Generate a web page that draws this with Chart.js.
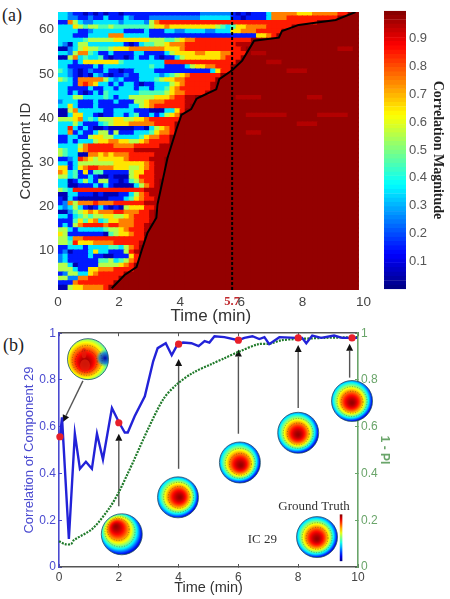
<!DOCTYPE html>
<html><head><meta charset="utf-8">
<script src="https://cdn.jsdelivr.net/npm/chart.js@4"></script>
<style>
html,body{margin:0;padding:0;background:#fff;width:450px;height:599px;overflow:hidden}
canvas{position:absolute;filter:blur(.45px)}
#heat{filter:blur(.65px)}
.tag{position:absolute;font-family:"Liberation Serif",serif;font-size:18px;color:#222;line-height:20px}
</style></head><body>
<div class="tag" style="left:2px;top:5px">(a)</div>
<div class="tag" style="left:3px;top:335px">(b)</div>
<div style="position:absolute;left:0;top:0;width:375px;height:327px"><canvas id="heat"></canvas></div>
<div style="position:absolute;left:370px;top:0;width:80px;height:300px"><canvas id="bar"></canvas></div>
<div style="position:absolute;left:0;top:320px;width:450px;height:279px"><canvas id="line"></canvas></div>
<script>
// ---------- panel (a) data ----------
const levelValues = [.05,.15,.25,.35,.45,.55,.65,.75,.85,.95,.98]; // digit (a = 10) -> correlation
const cellMinutes = 1/6;
const columnCount = 59;
const saturatedLevel = 'a';
// rows from component 63 (top) down to component 1; after the written cells each row stays saturated
const heatRows = [
"332110101011011111111111111122222210101113777776667777788aa",
"3322112113111321112222222222333333110111137778888888888aaaa",
"117532233333233332578888888888888888888888888888888",
"3336545544544444445667666666666543466777788888",
"33331123333331111311133223333223336677788888",
"3331113333777333331111111111111111111116678",
"33333455555666666655544567788888888888",
"32035533333331013445567778888888888999",
"0023565544566677777776667888888888889aaaaaaaaaaaaaaaaaa999",
"3325774311311113311113566667766677888a999",
"005734334101101311310113566666667888",
"33313666666643333333388888888888888aaaaaa999",
"3311111313333333334331111356677888",
"4321012113110113333111111111113688aaaaaaaaaaa9999",
"33210103210112113333234567888888",
"5431777775323111333456677888888",
"3331787633131331011333567888889",
"3311113113313331331334678888889",
"331310131433333344444567788889",
"333553333431335555566678899aaaaaaaa99999aaaaaaaaa999",
"233311131113111556777888899",
"33631113111111335678888889",
"0057333331133331110003368",
"003663310113313411313567aaaaaaaaaaaaa99999999aaaaaa999999",
"555673435556655667888888",
"33353111345666777778888aaaaaaaaaaaaaaaaaaaaaaaa9999",
"33831310010000011035678",
"33713113551511133346778aaaaaaaaaaaaaa999",
"1133115665533333467788",
"1131333566776655678888",
"3333578888877778888899",
"5433678888888889999999",
"5433007767677788888999",
"112387656666678888999",
"331355555556666667899",
"661367887776665567899",
"763416144111115668899",
"553411310010005688899",
"33013531551101457889",
"33001113131000035789",
"54388888888888888999",
"00331110100011357899",
"10310000001113467889",
"12757778777888888999",
"32353101310105666889",
"0024567677788777889",
"3313454556655678889",
"1114646734667778889",
"131578888788777889",
"553133333455678889",
"65111111104566788",
"55377888888888888",
"55486667777888889",
"1133313333443578",
"1201113633111589",
"2311113110011168",
"2311111144534578",
"553011115555678",
"555311667778888",
"1255336788888",
"552277888888",
"11178888888",
"0056677778"
];
const boundaryTimes = [1.76,2.18,2.57,2.74,2.93,3.22,3.26,3.49,3.58,3.88,4.04,4.36,4.53,4.63,5.18,5.28,5.7,6.03,6.42,7.23,7.33,7.88,9.09,9.74];
const boundaryIds   = [1.4,4.4,6.2,10,14,17.4,20.5,27.9,30.8,37.5,40.7,42,44.3,44.7,46.5,48.8,50.8,53,57.5,58.2,59.7,61.1,62.2,64];
const markerTime = 5.7;
const heatTimeTicks = [0,2,4,5.7,6,8,10];
const heatIdTicks = [10,20,30,40,50,60];
const colorbarTicks = [.1,.2,.3,.4,.5,.6,.7,.8,.9];

// ---------- panel (b) data ----------
const blueTimes = [0.03,0.1,0.33,0.53,0.7,0.9,1.1,1.27,1.47,1.77,2,2.2,2.3,2.53,2.87,3.15,3.3,3.57,3.77,3.97,4.15,4.43,4.67,4.87,5.03,5.2,5.53,6,6.2,6.47,6.7,6.87,7.03,7.37,7.93,8.13,8.27,8.47,8.77,9.2,9.47,9.97];
const blueValues = [.55,.64,.12,.57,.42,.45,.42,.57,.46,.68,.62,.575,.575,.645,.73,.88,.936,.957,.906,.953,.96,.957,.945,.966,.96,.987,.983,.97,.98,.987,.975,.983,.953,.983,.98,.98,.957,.99,.98,.99,.98,.98];
const greenTimes = [0,0.2,0.4,0.5,1.13,1.7,2,2.3,2.5,3,3.5,3.93,4.47,5.13,5.53,6,6.67,7.05,7.45,7.97,8.87,10];
const greenValues = [.11,.098,.098,.115,.165,.255,.32,.40,.455,.596,.72,.78,.83,.87,.893,.92,.953,.955,.97,.975,.98,.983];
const pointTimes = [0.03,2,4,6,8,9.8];
const pointValues = [.557,.617,.953,.97,.98,.98];
const axisTicks01 = [0,.2,.4,.6,.8,1];
const timeTicks = [0,2,4,6,8,10];
// arrows: [t start, value start, t tip, value tip]
const arrowList = [[.8,.796,.13,.62],[2,.26,2,.57],[4,.42,4,.89],[6,.57,6,.93],[8,.68,8,.95],[9.72,.81,9.72,.955]];
// scalp maps: centre in chart coordinates, offset of the hot spot
const scalpMaps = [
 {t:.97,v:.889,dx:-3,dy:4,soft:true},
 {t:2.1,v:.14,dx:-6,dy:-8},
 {t:3.98,v:.298,dx:2,dy:0},
 {t:6.05,v:.447,dx:1,dy:3},
 {t:8,v:.574,dx:0,dy:2},
 {t:9.8,v:.71,dx:0,dy:2},
 {t:8.63,v:.128,dx:0,dy:2}
];

function jet(v){
  const c = x => Math.round(255*Math.max(0,Math.min(1,1.5-Math.abs(x))));
  return `rgb(${c(4*v-3)},${c(4*v-2)},${c(4*v-1)})`;
}
const heatPoints = [];
heatRows.forEach((row,i)=>{
  const full = row.padEnd(columnCount,saturatedLevel);
  const id = heatRows.length - i;
  for(let c=0;c<columnCount;c++){
    const lv = full[c]==='a'?10:+full[c];
    heatPoints.push({x:(c+.5)*cellMinutes,y:id+.5,v:levelValues[lv]});
  }
});
const boundary = boundaryTimes.map((x,i)=>({x,y:boundaryIds[i]}));
const pairs = (a,b)=>a.map((x,i)=>({x,y:b[i]}));
const fix = (w,h)=>s=>{ if(w!=null) s.width=w; if(h!=null) s.height=h; };
const setTicks = list=>s=>{ s.ticks=list.map(value=>({value})); };
const isMark = c=>c.tick&&c.tick.value===5.7;
Chart.defaults.animation=false;
Chart.defaults.responsive=true;
Chart.defaults.maintainAspectRatio=false;
Chart.defaults.plugins.legend.display=false;
Chart.defaults.plugins.tooltip.enabled=false;
Chart.defaults.font.family='"Liberation Sans",Arial,sans-serif';

new Chart(document.getElementById('heat'),{
  type:'scatter',
  data:{datasets:[
    {type:'line',data:[{x:markerTime,y:1},{x:markerTime,y:64}],borderColor:'#000',borderWidth:2,borderDash:[3,2],pointRadius:0,order:0},
    {type:'line',data:boundary,borderColor:'#000',borderWidth:2,pointRadius:0,tension:0,order:1},
    {type:'scatter',data:heatPoints,pointStyle:'rect',pointRadius:4.4,pointBorderWidth:0,pointBackgroundColor:c=>c.raw?jet(c.raw.v):'#800',order:2}
  ]},
  options:{
    layout:{padding:{left:17,top:9,right:10,bottom:0}},
    scales:{
      x:{type:'linear',min:0,max:10,afterFit:fix(null,37),afterBuildTicks:setTicks(heatTimeTicks),
        grid:{display:false,drawTicks:false},border:{display:false},
        title:{display:true,text:'Time (min)',color:'#333',font:{size:17},padding:0},
        ticks:{autoSkip:false,maxRotation:0,padding:4,
          color:c=>isMark(c)?'#c0282c':'#444',
          font:c=>isMark(c)?{family:'"Liberation Serif",serif',weight:'bold',size:12.5}:{size:13.5},
          callback:v=>v}},
      y:{type:'linear',min:1,max:64,afterFit:fix(41,null),afterBuildTicks:setTicks(heatIdTicks),
        grid:{display:false,drawTicks:false},border:{display:false},
        title:{display:true,text:'Component ID',color:'#333',font:{size:15},padding:0},
        ticks:{autoSkip:false,padding:4,color:'#444',font:{size:13.5},callback:v=>v}}
    }
  }
});

const colorStep = 1/64;
const colorLevels = Array.from({length:64},(_,i)=>(i+.5)*colorStep);
new Chart(document.getElementById('bar'),{
  type:'bar',
  data:{labels:['c'],datasets:colorLevels.map(v=>({data:[colorStep],backgroundColor:jet(v),borderColor:jet(v),borderWidth:.6,borderSkipped:false,barPercentage:1,categoryPercentage:1}))},
  options:{
    layout:{padding:{left:14,top:9,right:4,bottom:9}},
    scales:{
      x:{display:false,stacked:true},
      y:{stacked:true,min:0,max:1,position:'right',afterFit:fix(40,null),afterBuildTicks:setTicks(colorbarTicks),
        grid:{display:false,drawTicks:false},border:{display:false},
        title:{display:true,text:'Correlation Magnitude',color:'#222',font:{family:'"Liberation Serif",serif',weight:'bold',size:14},padding:0},
        ticks:{autoSkip:false,padding:3,color:'#555',font:{size:13},callback:v=>v.toFixed(1)}}
    }
  }
});

function arrow(ctx,x0,y0,x1,y1){
  const a=Math.atan2(y1-y0,x1-x0),h=7,w=3.5;
  ctx.strokeStyle='#555';ctx.lineWidth=1.4;
  ctx.beginPath();ctx.moveTo(x0,y0);ctx.lineTo(x1-Math.cos(a)*h,y1-Math.sin(a)*h);ctx.stroke();
  ctx.fillStyle='#111';ctx.beginPath();ctx.moveTo(x1,y1);
  ctx.lineTo(x1-h*Math.cos(a)+w*Math.sin(a),y1-h*Math.sin(a)-w*Math.cos(a));
  ctx.lineTo(x1-h*Math.cos(a)-w*Math.sin(a),y1-h*Math.sin(a)+w*Math.cos(a));
  ctx.closePath();ctx.fill();
}
function scalp(ctx,cx,cy,m){
  const r=20.5;
  ctx.save();
  ctx.beginPath();ctx.arc(cx,cy,r,0,Math.PI*2);ctx.clip();
  const oX=cx-1.5,oY=cy-1.5;
  const g=ctx.createRadialGradient(cx+m.dx,cy+m.dy,0,oX,oY,m.soft?r*1.5:r+2);
  for(let k=0;k<=14;k++){const t=k/14;g.addColorStop(t,jet(.98-.93*Math.pow(t,1.7)));}
  ctx.fillStyle=g;ctx.fillRect(cx-r,cy-r,2*r,2*r);
  if(m.soft){
    const b=ctx.createRadialGradient(cx+17,cy-1,0,cx+17,cy-1,9);
    b.addColorStop(0,'rgba(0,0,170,1)');b.addColorStop(.6,'rgba(0,120,230,.8)');b.addColorStop(1,'rgba(0,200,220,0)');
    ctx.fillStyle=b;ctx.fillRect(cx-r,cy-r,2*r,2*r);
    ctx.fillStyle='rgba(225,30,10,.75)';
    ctx.beginPath();ctx.ellipse(cx-3,cy+6,5,6,0,0,7);ctx.fill();
    ctx.beginPath();ctx.ellipse(cx-4,cy-6,2.5,5,0,0,7);ctx.fill();
  }
  ctx.strokeStyle='rgba(40,40,20,.55)';ctx.lineWidth=.7;ctx.setLineDash([1,1.6]);
  ctx.beginPath();ctx.arc(cx+m.dx*.6,cy+m.dy*.6,11,0,7);ctx.stroke();
  ctx.beginPath();ctx.arc(cx+m.dx*.3,cy+m.dy*.3,15,0,7);ctx.stroke();
  ctx.setLineDash([]);
  ctx.restore();
  ctx.strokeStyle='#1c4f66';ctx.lineWidth=.8;
  ctx.beginPath();ctx.arc(cx,cy,r,0,7);ctx.stroke();
}
const panelB={id:'panelB',
  beforeDatasetsDraw(ch){
    const {ctx,scales:{x,y}}=ch;
    ctx.save();
    arrowList.forEach(a=>arrow(ctx,x.getPixelForValue(a[0]),y.getPixelForValue(a[1]),x.getPixelForValue(a[2]),y.getPixelForValue(a[3])));
    ctx.restore();
  },
  afterDatasetsDraw(ch){
    const {ctx,scales:{x,y}}=ch;
    ctx.save();
    scalpMaps.forEach(m=>scalp(ctx,x.getPixelForValue(m.t),y.getPixelForValue(m.v),m));
    const tr=x.getPixelForValue(9.43),top=y.getPixelForValue(.225),bot=y.getPixelForValue(.025);
    const g=ctx.createLinearGradient(0,top,0,bot);
    for(let k=0;k<=10;k++)g.addColorStop(k/10,jet(1-k/10));
    ctx.fillStyle=g;ctx.fillRect(tr-1.2,top,2.6,bot-top);
    ctx.fillStyle='#333';ctx.textAlign='center';ctx.textBaseline='middle';
    ctx.font='13px "Liberation Serif",serif';
    ctx.fillText('Ground Truth',x.getPixelForValue(8.53),y.getPixelForValue(.259));
    ctx.fillText('IC 29',x.getPixelForValue(6.8),y.getPixelForValue(.119));
    ctx.restore();
  }
};
const blueC='#4a4ad0',greenC='#6aa56a',grayC='#555';
new Chart(document.getElementById('line'),{
  type:'line',
  plugins:[panelB],
  data:{datasets:[
    {type:'scatter',data:pairs(pointTimes,pointValues),yAxisID:'y',pointRadius:3.6,pointBackgroundColor:'#e8202a',pointBorderWidth:0,clip:false},
    {data:pairs(blueTimes,blueValues),yAxisID:'y',borderColor:'#2222d8',borderWidth:2.4,pointRadius:0,tension:0,clip:false},
    {data:pairs(greenTimes,greenValues),yAxisID:'y2',borderColor:'#1f7a2a',borderWidth:2.2,borderDash:[2,1.2],pointRadius:0,tension:.3,clip:false}
  ]},
  options:{
    layout:{padding:{left:22,top:12,right:58,bottom:2}},
    scales:{
      x:{type:'linear',min:0,max:10,afterFit:fix(null,30),afterBuildTicks:setTicks(timeTicks),
        grid:{drawOnChartArea:false,tickLength:-3,tickColor:grayC},border:{color:grayC,width:1.6},
        title:{display:true,text:'Time (min)',color:'#333',font:{size:14.5},padding:0},
        ticks:{autoSkip:false,maxRotation:0,padding:6,color:'#444',font:{size:12},callback:v=>v}},
      xt:{type:'linear',position:'top',min:0,max:10,afterFit:fix(null,0),afterBuildTicks:setTicks(timeTicks),
        grid:{drawOnChartArea:false,tickLength:-3,tickColor:grayC},border:{color:grayC,width:1.6},
        ticks:{display:false}},
      y:{type:'linear',position:'left',min:0,max:1,afterFit:fix(37,null),afterBuildTicks:setTicks(axisTicks01),
        grid:{drawOnChartArea:false,tickLength:-3,tickColor:blueC},border:{color:blueC,width:1.6},
        title:{display:true,text:'Correlation of Component 29',color:blueC,font:{size:13},padding:0},
        ticks:{autoSkip:false,padding:6,color:blueC,font:{size:12},callback:v=>v}},
      y2:{type:'linear',position:'right',min:0,max:1,afterFit:fix(34,null),afterBuildTicks:setTicks(axisTicks01),
        grid:{drawOnChartArea:false,tickLength:-3,tickColor:greenC},border:{color:greenC,width:1.6},
        title:{display:true,text:'1 - PI',color:greenC,font:{size:12,weight:'bold'},padding:0},
        ticks:{autoSkip:false,padding:6,color:greenC,font:{size:12},callback:v=>v}}
    }
  }
});
</script>
</body></html>
